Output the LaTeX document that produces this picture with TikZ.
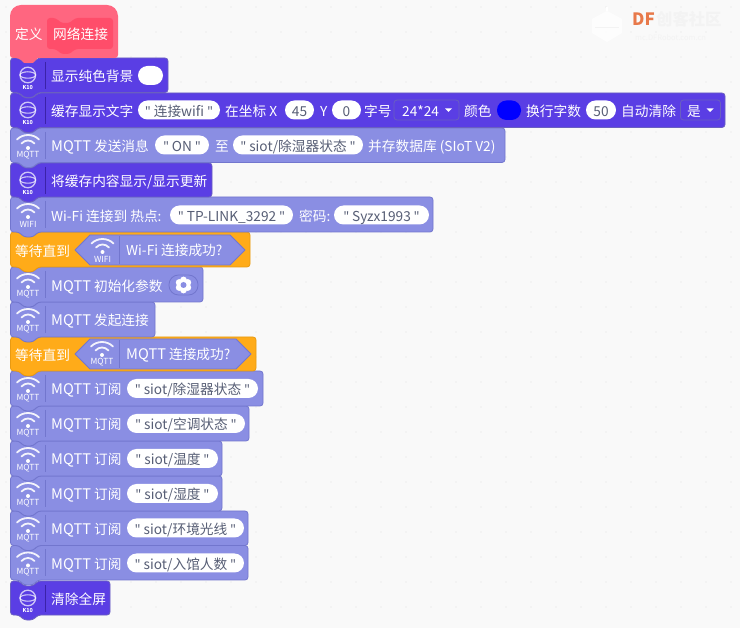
\documentclass[tikz,border=0pt]{standalone}
\usepackage{fontspec}
\setmainfont{Noto Sans CJK SC}
\newfontfamily\qf{Noto Sans}
\newcommand{\qq}{{\qf"}}
\newcommand{\MQ}{{\fontsize{14.6}{15}\selectfont MQTT}}
\definecolor{bgc}{HTML}{F9F9F9}
\definecolor{gridc}{HTML}{EDEDED}
\definecolor{kten}{HTML}{5A3EE4}
\definecolor{ktenb}{HTML}{6A5FC0}
\definecolor{ktenl}{HTML}{3B22A8}
\definecolor{mq}{HTML}{8A8EE3}
\definecolor{mqb}{HTML}{7276CE}
\definecolor{orng}{HTML}{FFAB19}
\definecolor{orngb}{HTML}{E89A12}
\definecolor{hatc}{HTML}{FF6680}
\definecolor{hatd}{HTML}{FF4D6A}
\definecolor{pilltxt}{HTML}{575E75}
\definecolor{dfor}{HTML}{E8794A}
\definecolor{wm}{HTML}{F3F3F3}
\tikzset{
  lbl/.style={anchor=west,inner sep=0pt,text=white,yshift=-2.6pt,font=\fontsize{13.7}{15}\selectfont,text height=10pt,text depth=3pt},
  pilltext/.style={anchor=center,inner sep=0pt,text=pilltxt,yshift=-2.6pt,font=\fontsize{13.7}{15}\selectfont,text height=10pt,text depth=3pt},
  small/.style={inner sep=0pt,text=white,font=\fontsize{8.4}{9}\selectfont},
  blockline/.style={line width=0.8pt,rounded corners=3pt,line join=round},
}
\newcommand{\blk}[5]{%
  \draw[blockline,fill=#4,draw=#5] (10.5,#1) -- (19,#1) -- (24,#1+5) -- (33,#1+5) -- (38,#1) -- (#3,#1)
    -- (#3,#2) -- (38,#2) -- (33,#2+5) -- (24,#2+5) -- (19,#2) -- (10.5,#2) -- cycle;}
\newcommand{\sepl}[3]{\draw[#3,line width=0.8pt] (#1,#2+4) -- (#1,#2+31);}
\newcommand{\wfi}[4]{%
  \draw[white,opacity=.9,line width=1.8pt,line cap=round] (#2-11,#3+11.5) .. controls (#2-5,#3+5.5) and (#2+5,#3+5.5) .. (#2+11,#3+11.5);
  \draw[white,opacity=.9,line width=1.8pt,line cap=round] (#2-6.5,#3+15.5) .. controls (#2-3,#3+11.5) and (#2+3,#3+11.5) .. (#2+6.5,#3+15.5);
  \fill[white] (#2,#3+20) circle (2);
  \node[small] (#1) at (#2,#3+27) {#4};}
\newcommand{\kico}[2]{%
  \draw[white,opacity=.7,line width=1.3pt] (27.8,#2+17) circle (7.8);
  \draw[white,opacity=.7,line width=1.1pt] (27.8,#2+17) ellipse (7.8 and 3.2);
  \node[small,font=\fontsize{5.4}{6}\bfseries\itshape\selectfont] (#1) at (27.8,#2+29.3) {K10};}
\newcommand{\pil}[5]{%
  \fill[white,rounded corners=9.5pt] (#2,#4-9.5) rectangle (#3,#4+9.5);
  \node[pilltext] (#1) at ({(#2+#3)/2},#4) {#5};}
\newcommand{\dd}[6]{%
  \draw[ktenb,line width=0.8pt,rounded corners=3pt] (#2,#5-10) rectangle (#3,#5+10);
  \node[lbl] (#1) at (#4,#5) {#6};
  \fill[white] (#3-14,#5-1.5) -- (#3-7,#5-1.5) -- (#3-10.5,#5+2) -- cycle;}
\begin{document}
\begin{tikzpicture}[x=1pt,y=-1pt]
\useasboundingbox (0,0) rectangle (740,628);
\fill[bgc] (0,0) rectangle (740,628);
\foreach \i in {0,...,29}{\foreach \j in {0,...,25}{\fill[gridc] (6+25*\i,7+25*\j) circle (0.8);}}
% watermark
\fill[white,opacity=.8] (607,11) -- (622,19) -- (622,33) -- (607,42) -- (592,33) -- (592,19) -- cycle;
\draw[white,line width=1.2pt] (607,11) -- (607,7);
\draw[wm,line width=0.8pt] (595,27) -- (619,27);
\node[anchor=west,inner sep=0pt,text=dfor,font=\fontsize{17}{19}\bfseries\selectfont] (wmdf) at (632,19.5) {DF};
\node[anchor=west,inner sep=0pt,text=wm,font=\fontsize{16.3}{18}\bfseries\selectfont] (wmcn) at (656,19.5) {创客社区};
\node[anchor=west,inner sep=0pt,text=wm,font=\fontsize{7.5}{9}\selectfont] (wmurl) at (635,38) {mc.DFRobot.com.cn};
% row 16
\blk{581}{615}{110}{kten}{ktenb}\kico{i16}{581}\sepl{45.5}{581}{ktenl}
\node[lbl] (t16) at (51,598) {清除全屏};
% row 15
\blk{545.5}{580}{248}{mq}{mqb}\wfi{i15}{28}{545.5}{MQTT}\sepl{45.5}{545.5}{mqb}
\node[lbl] (t15) at (51,563) {\MQ{} 订阅};
\pil{p15}{127}{244}{563}{\qq{} siot/入馆人数 \qq}
% row 14
\blk{511}{545.5}{248}{mq}{mqb}\wfi{i14}{28}{511}{MQTT}\sepl{45.5}{511}{mqb}
\node[lbl] (t14) at (51,528) {\MQ{} 订阅};
\pil{p14}{127}{244}{528}{\qq{} siot/环境光线 \qq}
% row 13
\blk{476}{511}{222}{mq}{mqb}\wfi{i13}{28}{476}{MQTT}\sepl{45.5}{476}{mqb}
\node[lbl] (t13) at (51,493.5) {\MQ{} 订阅};
\pil{p13}{127}{218}{493.5}{\qq{} siot/湿度 \qq}
% row 12
\blk{441}{476}{222}{mq}{mqb}\wfi{i12}{28}{441}{MQTT}\sepl{45.5}{441}{mqb}
\node[lbl] (t12) at (51,458.5) {\MQ{} 订阅};
\pil{p12}{127}{218}{458.5}{\qq{} siot/温度 \qq}
% row 11
\blk{406}{441}{249}{mq}{mqb}\wfi{i11}{28}{406}{MQTT}\sepl{45.5}{406}{mqb}
\node[lbl] (t11) at (51,423.5) {\MQ{} 订阅};
\pil{p11}{127}{245}{423.5}{\qq{} siot/空调状态 \qq}
% row 10
\blk{371}{406}{263}{mq}{mqb}\wfi{i10}{28}{371}{MQTT}\sepl{45.5}{371}{mqb}
\node[lbl] (t10) at (51,388.5) {\MQ{} 订阅};
\pil{p10}{127}{258}{388.5}{\qq{} siot/除湿器状态 \qq}
% row 9 wait
\blk{337}{371}{256}{orng}{orngb}
\node[lbl] (t9) at (15,354) {等待直到};
\draw[mqb,fill=mq,line width=0.8pt,line join=round] (75,354) -- (90,339) -- (236,339) -- (251,354) -- (236,369) -- (90,369) -- cycle;
\wfi{i9}{102}{335}{MQTT}
\draw[mqb,line width=0.8pt] (119.5,340) -- (119.5,368);
\node[lbl] (h9) at (126,353.5) {\MQ{} 连接成功?};
% row 8
\blk{302}{337}{155}{mq}{mqb}\wfi{i8}{28}{302}{MQTT}\sepl{45.5}{302}{mqb}
\node[lbl] (t8) at (51,319) {\MQ{} 发起连接};
% row 7
\blk{267}{302}{203}{mq}{mqb}\wfi{i7}{28}{267}{MQTT}\sepl{45.5}{267}{mqb}
\node[lbl] (t7) at (51,285) {\MQ{} 初始化参数};
\draw[mqb,fill=mq,line width=0.8pt,rounded corners=9.5pt] (169,275) rectangle (198,295);
\foreach \a in {30,90,...,330}{\fill[white] (183.5,285)++(\a:5) circle (3.4);}
\fill[mq] (183.5,285) circle (3);
% row 6 wait
\blk{232}{267}{250}{orng}{orngb}
\node[lbl] (t6) at (15,250) {等待直到};
\draw[mqb,fill=mq,line width=0.8pt,line join=round] (75,250) -- (90,235) -- (230,235) -- (245,250) -- (230,265) -- (90,265) -- cycle;
\wfi{i6}{102.5}{232}{WIFI}
\draw[mqb,line width=0.8pt] (119.5,236) -- (119.5,264);
\node[lbl] (h6) at (126,249.5) {Wi-Fi 连接成功?};
% row 5
\blk{197}{232}{433}{mq}{mqb}\wfi{i5}{28}{197}{WIFI}\sepl{45.5}{197}{mqb}
\node[lbl] (t5) at (51,215) {Wi-Fi 连接到 热点:};
\pil{p5a}{170}{293}{215}{\qq{} TP-LINK\_3292 \qq}
\node[lbl] (t5b) at (299,215) {密码:};
\pil{p5b}{334}{429}{215}{\qq{} Syzx1993 \qq}
% row 4
\blk{163}{197}{212}{kten}{ktenb}\kico{i4}{163}\sepl{45.5}{163}{ktenl}
\node[lbl] (t4) at (51,180) {将缓存内容显示/显示更新};
% row 3
\blk{128}{162.5}{505}{mq}{mqb}\wfi{i3}{28}{128}{MQTT}\sepl{45.5}{128}{mqb}
\node[lbl] (t3) at (51,145) {\MQ{} 发送消息};
\pil{p3a}{155}{209}{145}{\qq{} ON \qq}
\node[lbl] (t3b) at (215,145) {至};
\pil{p3b}{233}{363}{145}{\qq{} siot/除湿器状态 \qq}
\node[lbl] (t3c) at (368,145) {并存数据库 (SIoT V2)};
% row 2
\blk{93}{127.5}{725}{kten}{ktenb}\kico{i2}{93}\sepl{45.5}{93}{ktenl}
\node[lbl] (t2a) at (51,110) {缓存显示文字};
\pil{p2a}{138}{220}{110}{\qq{} 连接wifi \qq}
\node[lbl] (t2b) at (225,110) {在坐标 X};
\pil{p2b}{285}{314}{110}{45}
\node[lbl] (t2c) at (320,110) {Y};
\pil{p2c}{332}{361}{110}{0}
\node[lbl] (t2d) at (364,110) {字号};
\dd{d2a}{394}{459}{402}{110}{24*24}
\node[lbl] (t2e) at (464,110) {颜色};
\fill[blue,rounded corners=9.5pt] (497,100.5) rectangle (521,120);
\node[lbl] (t2f) at (526,110) {换行字数};
\pil{p2f}{586}{616}{110}{50}
\node[lbl] (t2g) at (621,110) {自动清除};
\dd{d2b}{680.5}{720.5}{687}{110}{是}
% row 1
\blk{58}{92.5}{168}{kten}{ktenb}\kico{i1}{58}\sepl{45.5}{58}{ktenl}
\node[lbl] (t1) at (51,75) {显示纯色背景};
\fill[white,rounded corners=9.5pt] (138,66) rectangle (163,85);
% hat
\fill[hatc] (19,58) -- (24,63) -- (33,63) -- (38,58) [rounded corners=3pt] -- (118,58) [rounded corners=11pt] -- (118,5) -- (10,5) [rounded corners=3pt] -- (10,58) -- cycle;
\fill[hatd,rounded corners=3pt] (47,18) -- (56,18) -- (61,23) -- (70,23) -- (75,18) -- (113,18) -- (113,49) -- (75,49) -- (70,54) -- (61,54) -- (56,49) -- (47,49) -- cycle;
\node[lbl] (th) at (15,33) {定义};
\node[lbl] (th2) at (53,33) {网络连接};
\end{tikzpicture}
\end{document}
